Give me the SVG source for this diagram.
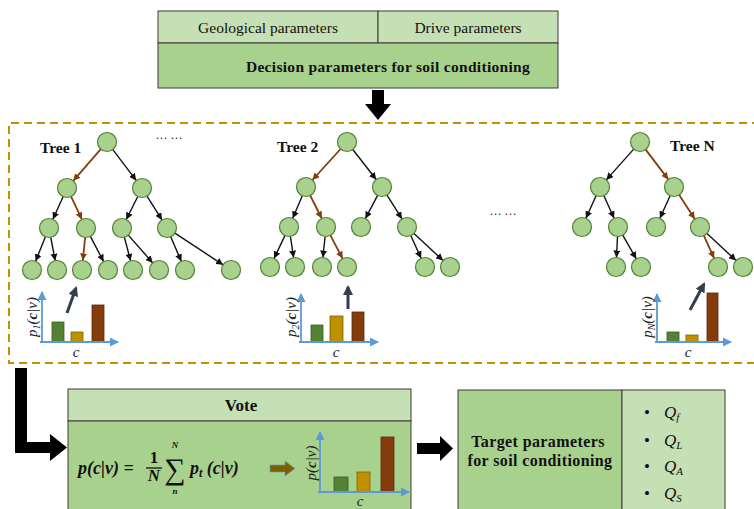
<svg xmlns="http://www.w3.org/2000/svg" width="754" height="509" viewBox="0 0 754 509">
<style>
.lt{fill:#c5e0b4;stroke:#3a3a3a;stroke-width:1}
.dk{fill:#a9d18e;stroke:#3a3a3a;stroke-width:1}
.t{font-family:"Liberation Serif","Times New Roman",serif;font-size:15.5px;fill:#111}
.b{font-weight:bold}
.i{font-style:italic}
.n{fill:#a9d18e;stroke:#538135;stroke-width:1.2}
.e{stroke:#111;stroke-width:1.4;fill:none;marker-end:url(#ak)}
.r{stroke:#843c0c;stroke-width:1.8;fill:none;marker-end:url(#ar)}
.ax{stroke:#5b9bd5;stroke-width:1.8;fill:none;marker-end:url(#ab)}
.g{fill:#548235;stroke:#3a5a25;stroke-width:0.8}
.y{fill:#bf9000;stroke:#7f6000;stroke-width:0.8}
.br{fill:#843c0c;stroke:#5a2808;stroke-width:0.8}
.pa{stroke:#323f4f;stroke-width:3;fill:none;marker-end:url(#ad)}
.lab{font-family:"Liberation Serif","Times New Roman",serif;font-size:15px;fill:#222;font-style:italic}
.m{font-family:"Liberation Serif","Times New Roman",serif;fill:#111}
</style>
<defs>
<marker id="ak" markerUnits="userSpaceOnUse" markerWidth="7" markerHeight="7" refX="7" refY="3.5" orient="auto"><path d="M0,0 L7,3.5 L0,7 z" fill="#111"/></marker>
<marker id="ar" markerUnits="userSpaceOnUse" markerWidth="7" markerHeight="7" refX="7" refY="3.5" orient="auto"><path d="M0,0 L7,3.5 L0,7 z" fill="#843c0c"/></marker>
<marker id="ab" markerUnits="userSpaceOnUse" markerWidth="9" markerHeight="9" refX="8" refY="4.5" orient="auto"><path d="M0,0 L9,4.5 L0,9 z" fill="#5b9bd5"/></marker>
<marker id="ad" markerUnits="userSpaceOnUse" markerWidth="10" markerHeight="10" refX="8" refY="5" orient="auto"><path d="M0,0 L10,5 L0,10 z" fill="#323f4f"/></marker>
</defs>

<g id="header">
<rect class="lt" x="158" y="11" width="220" height="32"/>
<rect class="lt" x="378" y="11" width="180" height="32"/>
<rect class="dk" x="158" y="43" width="400" height="45"/>
<text class="t" x="268" y="33" text-anchor="middle">Geological parameters</text>
<text class="t" x="468" y="33" text-anchor="middle">Drive parameters</text>
<text class="t b" x="388" y="72" text-anchor="middle" style="font-size:15.5px;letter-spacing:0.3px">Decision parameters for soil conditioning</text>
</g>

<g id="arrows-big" fill="#000">
<path d="M372,90 H384 V104 H391 L378,120 L365,104 H372 Z"/>
<path d="M15,368 H27 V442 H50 V434 L67,447.5 L50,461 V453 H15 Z"/>
<path d="M417,443 H440 V436 L453,448.5 L440,461 V454 H417 Z"/>
</g>

<g id="forest-frame">
<path d="M760,123 H9 V363 H760" fill="none" stroke="#bf9000" stroke-width="2" stroke-dasharray="8 5"/>
<text class="t" x="169" y="139" text-anchor="middle" style="font-size:12px">… …</text>
<text class="t" x="503" y="215" text-anchor="middle" style="font-size:12px">… …</text>
</g>

<g id="connectors">
<line class="r" x1="100.8" y1="149.2" x2="73.2" y2="180.8"/>
<line class="e" x1="112.8" y1="149.6" x2="136.2" y2="180.4"/>
<line class="e" x1="63.1" y1="196.7" x2="52.9" y2="219.3"/>
<line class="r" x1="71.1" y1="196.6" x2="81.9" y2="219.4"/>
<line class="e" x1="137.8" y1="196.5" x2="126.2" y2="219.5"/>
<line class="e" x1="147" y1="196.1" x2="162" y2="219.9"/>
<line class="e" x1="45.4" y1="236.8" x2="35.6" y2="261.2"/>
<line class="e" x1="50.8" y1="237.3" x2="55.2" y2="260.7"/>
<line class="r" x1="85.1" y1="237.5" x2="82.9" y2="260.5"/>
<line class="e" x1="90.4" y1="236.4" x2="103.6" y2="261.6"/>
<line class="e" x1="124.4" y1="237.2" x2="130.6" y2="260.8"/>
<line class="e" x1="128.3" y1="235.1" x2="152.7" y2="262.9"/>
<line class="e" x1="170.7" y1="236.7" x2="181.3" y2="261.3"/>
<line class="e" x1="174.9" y1="233.2" x2="223.1" y2="264.8"/>
<line class="r" x1="340.6" y1="149" x2="312.4" y2="180"/>
<line class="e" x1="352.8" y1="149.5" x2="376.2" y2="179.5"/>
<line class="e" x1="302.3" y1="195.7" x2="292.7" y2="218.3"/>
<line class="r" x1="310.2" y1="195.5" x2="321.8" y2="218.5"/>
<line class="e" x1="377.6" y1="195.4" x2="365.4" y2="218.6"/>
<line class="e" x1="387" y1="195.1" x2="402" y2="218.9"/>
<line class="e" x1="284.9" y1="235.6" x2="274.1" y2="258.4"/>
<line class="e" x1="290.4" y1="236.4" x2="293.6" y2="257.6"/>
<line class="e" x1="325.1" y1="236.5" x2="322.9" y2="257.5"/>
<line class="r" x1="330.4" y1="235.4" x2="342.6" y2="258.6"/>
<line class="e" x1="410.9" y1="235.7" x2="421.1" y2="258.3"/>
<line class="e" x1="414" y1="233.5" x2="443" y2="260.5"/>
<line class="e" x1="633.7" y1="149.1" x2="606.3" y2="179.9"/>
<line class="r" x1="645.7" y1="149.6" x2="668.3" y2="179.4"/>
<line class="e" x1="596.1" y1="195.7" x2="585.9" y2="218.3"/>
<line class="e" x1="603.9" y1="195.7" x2="614.1" y2="218.3"/>
<line class="e" x1="670.1" y1="195.7" x2="659.9" y2="218.3"/>
<line class="r" x1="679.2" y1="195" x2="694.8" y2="219"/>
<line class="e" x1="617.5" y1="236.5" x2="616.5" y2="257.5"/>
<line class="e" x1="622.7" y1="235.2" x2="636.3" y2="258.8"/>
<line class="r" x1="703.9" y1="235.7" x2="714.1" y2="258.3"/>
<line class="e" x1="707" y1="233.5" x2="736" y2="260.5"/>
</g>

<g id="tree1">
<text class="t b" x="40" y="153">Tree 1</text>
<circle class="n" cx="107" cy="142" r="9.5"/>
<circle class="n" cx="67" cy="188" r="9.5"/><circle class="n" cx="142" cy="188" r="9.5"/>
<circle class="n" cx="49" cy="228" r="9.5"/><circle class="n" cx="86" cy="228" r="9.5"/><circle class="n" cx="122" cy="228" r="9.5"/><circle class="n" cx="167" cy="228" r="9.5"/>
<circle class="n" cx="32" cy="270" r="9.5"/><circle class="n" cx="57" cy="270" r="9.5"/><circle class="n" cx="82" cy="270" r="9.5"/><circle class="n" cx="108" cy="270" r="9.5"/>
<circle class="n" cx="133" cy="270" r="9.5"/><circle class="n" cx="159" cy="270" r="9.5"/><circle class="n" cx="185" cy="270" r="9.5"/><circle class="n" cx="231" cy="270" r="9.5"/>
</g>
<g id="chart1">
<rect class="g" x="52" y="322" width="12" height="20"/>
<rect class="y" x="71" y="332" width="12" height="10"/>
<rect class="br" x="92" y="305" width="12" height="37"/>
<path class="ax" d="M42,342 V292"/>
<path class="ax" d="M40,342 H118"/>
<text class="lab" x="76" y="357" text-anchor="middle">c</text>
<text class="lab" transform="translate(37,317) rotate(-90)" text-anchor="middle">p<tspan font-size="10" dy="3">1</tspan><tspan dy="-3">(</tspan><tspan font-weight="bold">c</tspan>|v)</text>
<line class="pa" x1="67" y1="313" x2="76" y2="288"/>
</g>

<g id="tree2">
<text class="t b" x="277" y="152">Tree 2</text>
<circle class="n" cx="347" cy="142" r="9.5"/>
<circle class="n" cx="306" cy="187" r="9.5"/><circle class="n" cx="382" cy="187" r="9.5"/>
<circle class="n" cx="289" cy="227" r="9.5"/><circle class="n" cx="326" cy="227" r="9.5"/><circle class="n" cx="361" cy="227" r="9.5"/><circle class="n" cx="407" cy="227" r="9.5"/>
<circle class="n" cx="270" cy="267" r="9.5"/><circle class="n" cx="295" cy="267" r="9.5"/><circle class="n" cx="322" cy="267" r="9.5"/><circle class="n" cx="347" cy="267" r="9.5"/>
<circle class="n" cx="425" cy="267" r="9.5"/><circle class="n" cx="450" cy="267" r="9.5"/>
</g>
<g id="chart2">
<rect class="g" x="311" y="325" width="12" height="17"/>
<rect class="y" x="330" y="316" width="13" height="26"/>
<rect class="br" x="352" y="312" width="12" height="30"/>
<path class="ax" d="M301,342 V294"/>
<path class="ax" d="M299,342 H378"/>
<text class="lab" x="336" y="357" text-anchor="middle">c</text>
<text class="lab" transform="translate(296,317) rotate(-90)" text-anchor="middle">p<tspan font-size="10" dy="3">2</tspan><tspan dy="-3">(</tspan><tspan font-weight="bold">c</tspan>|v)</text>
<line class="pa" x1="348" y1="309" x2="348" y2="287"/>
</g>

<g id="treeN">
<text class="t b" x="670" y="151">Tree N</text>
<circle class="n" cx="640" cy="142" r="9.5"/>
<circle class="n" cx="600" cy="187" r="9.5"/><circle class="n" cx="674" cy="187" r="9.5"/>
<circle class="n" cx="582" cy="227" r="9.5"/><circle class="n" cx="618" cy="227" r="9.5"/><circle class="n" cx="656" cy="227" r="9.5"/><circle class="n" cx="700" cy="227" r="9.5"/>
<circle class="n" cx="616" cy="267" r="9.5"/><circle class="n" cx="641" cy="267" r="9.5"/><circle class="n" cx="718" cy="267" r="9.5"/><circle class="n" cx="743" cy="267" r="9.5"/>
</g>
<g id="chartN">
<rect class="g" x="667" y="332" width="12" height="10"/>
<rect class="y" x="686" y="335" width="12" height="7"/>
<rect class="br" x="707" y="293" width="11" height="49"/>
<path class="ax" d="M657,342 V294"/>
<path class="ax" d="M655,342 H731"/>
<text class="lab" x="688" y="357" text-anchor="middle">c</text>
<text class="lab" transform="translate(652,317) rotate(-90)" text-anchor="middle">p<tspan font-size="10" dy="3">N</tspan><tspan dy="-3">(</tspan><tspan font-weight="bold">c</tspan>|v)</text>
<line class="pa" x1="690" y1="310" x2="704" y2="284"/>
</g>

<g id="vote">
<rect class="lt" x="68" y="389" width="343" height="32"/>
<rect class="dk" x="68" y="421" width="343" height="95"/>
<text class="t b" x="241" y="411" text-anchor="middle" style="font-size:17px">Vote</text>
<g class="m" font-weight="bold">
<text x="78" y="474" font-size="18" font-style="italic">p(c|v) =</text>
<text x="154" y="463" font-size="17" text-anchor="middle">1</text>
<line x1="146" y1="468" x2="162" y2="468" stroke="#111" stroke-width="1.3"/>
<text x="154" y="481" font-size="17" font-style="italic" text-anchor="middle">N</text>
<text x="175" y="479" font-size="30" font-weight="normal" text-anchor="middle">∑</text>
<text x="175" y="448" font-size="9" font-style="italic" text-anchor="middle">N</text>
<text x="175" y="494" font-size="9" font-style="italic" text-anchor="middle">n</text>
<text x="190" y="474" font-size="18" font-style="italic">p<tspan font-size="12" dy="3">t</tspan><tspan dy="-3"> (c|v)</tspan></text>
</g>
<path d="M270,465 H285 V461 L295,468.5 L285,476 V472 H270 Z" fill="#7f6000" stroke="#5b9bd5" stroke-width="0.6"/>
<rect class="g" x="334" y="477" width="14" height="15"/>
<rect class="y" x="357" y="472" width="13" height="20"/>
<rect class="br" x="381" y="437" width="13" height="55"/>
<path class="ax" d="M320,492 V432"/>
<path class="ax" d="M318,492 H409"/>
<text class="lab" x="360" y="506" text-anchor="middle">c</text>
<text class="lab" transform="translate(316,463) rotate(-90)" text-anchor="middle" font-size="16">p(<tspan font-weight="bold">c</tspan>|v)</text>
</g>

<g id="target">
<rect class="dk" x="458" y="390" width="164" height="126"/>
<rect class="lt" x="622" y="390" width="103" height="126"/>
<text class="t b" x="538" y="447" text-anchor="middle" style="font-size:16px;letter-spacing:0.4px">Target parameters</text>
<text class="t b" x="540" y="466" text-anchor="middle" style="font-size:16px;letter-spacing:0.4px">for soil conditioning</text>
<g class="m" font-size="17">
<text x="644" y="418">•</text><text x="664" y="418" font-style="italic">Q<tspan font-size="11" dy="3">f</tspan></text>
<text x="644" y="446">•</text><text x="664" y="446" font-style="italic">Q<tspan font-size="11" dy="3">L</tspan></text>
<text x="644" y="472">•</text><text x="664" y="472" font-style="italic">Q<tspan font-size="11" dy="3">A</tspan></text>
<text x="644" y="499">•</text><text x="664" y="499" font-style="italic">Q<tspan font-size="11" dy="3">S</tspan></text>
</g>
</g>
</svg>
